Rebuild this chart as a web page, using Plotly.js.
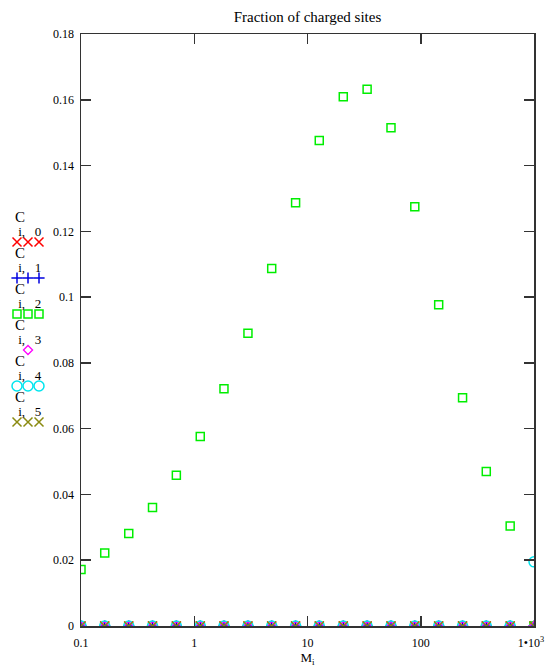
<!DOCTYPE html>
<html>
<head>
<meta charset="utf-8">
<script src="https://cdn.plot.ly/plotly-3.0.1.min.js"></script>
<style>html,body{margin:0;padding:0;background:#fff;}#chart{width:546px;height:667px;}</style>
</head>
<body>
<div id="chart"></div>
<script>
// ---- data ----
const M = [0.1, 0.162, 0.264, 0.428, 0.695, 1.13, 1.83, 2.98, 4.83, 7.85, 12.7, 20.7, 33.6, 54.6, 88.6, 144, 234, 379, 616, 1000];
const C0 = [0, 0, 0, 0, 0, 0, 0, 0, 0, 0, 0, 0, 0, 0, 0, 0, 0, 0, 0, 0];
const C1 = [0, 0, 0, 0, 0, 0, 0, 0, 0, 0, 0, 0, 0, 0, 0, 0, 0, 0, 0, 0];
const C2 = [0.0172, 0.0222, 0.0281, 0.0360, 0.0458, 0.0576, 0.0721, 0.0890, 0.1087, 0.1287, 0.1476, 0.1609, 0.1632, 0.1515, 0.1275, 0.0977, 0.0694, 0.0470, 0.0304, 0];
const C3 = [0, 0, 0, 0, 0, 0, 0, 0, 0, 0, 0, 0, 0, 0, 0, 0, 0, 0, 0, 0];
const C4 = [0, 0, 0, 0, 0, 0, 0, 0, 0, 0, 0, 0, 0, 0, 0, 0, 0, 0, 0, 0.0195];
const C5 = [0, 0, 0, 0, 0, 0, 0, 0, 0, 0, 0, 0, 0, 0, 0, 0, 0, 0, 0, 0];
const seriesSubs = ["i,\u2002\u00a00", "i,\u2002\u00a01", "i,\u2002\u00a02", "i,\u2002\u00a03", "i,\u2002\u00a04", "i,\u2002\u00a05"];
const xTickVals = [0.1, 1, 10, 100, 1000];
const xTickText = ["0.1", "1", "10", "100", "1\u202210<sup>3</sup>\u00a0\u00a0"];
const titleText = "Fraction of charged sites";
const xTitle = "M<sub>i</sub>";

// ---- styles ----
const series = [C0, C1, C2, C3, C4, C5];
const styles = [
  {symbol: "x-thin-open", color: "#ff0000", size: 9, lw: 1.5, legendPts: 3},
  {symbol: "cross-thin-open", color: "#0000e0", size: 8, lw: 1.5, legendPts: 3},
  {symbol: "square-open", color: "#00ee00", size: 8, lw: 1.5, legendPts: 3},
  {symbol: "diamond-open", color: "#ff00ff", size: 7, lw: 1.3, legendPts: 1},
  {symbol: "circle-open", color: "#00e5ee", size: 10, lw: 1.5, legendPts: 3},
  {symbol: "x-thin-open", color: "#8a8a10", size: 9, lw: 1.5, legendPts: 3}
];
const serif = "Liberation Serif";
const axisCol = "#333333";

const traces = [];
series.forEach((ys, i) => {
  const s = styles[i];
  traces.push({
    x: M, y: ys, type: "scatter", mode: "markers", xaxis: "x", yaxis: "y",
    cliponaxis: true, showlegend: false, hoverinfo: "skip",
    marker: {symbol: s.symbol, size: s.size, color: s.color, line: {color: s.color, width: s.lw}}
  });
});
// legend markers on a hidden helper axis (row = series index)
const annotations = [];
series.forEach((ys, i) => {
  const s = styles[i];
  const lx = s.legendPts === 3 ? [0, 1, 2] : [1];
  traces.push({
    x: lx, y: lx.map(() => i), type: "scatter", mode: "markers", xaxis: "x2", yaxis: "y2",
    cliponaxis: false, showlegend: false, hoverinfo: "skip",
    marker: {symbol: s.symbol, size: s.size, color: s.color, line: {color: s.color, width: s.lw}}
  });
  annotations.push({xref: "x2", yref: "y2", x: -0.4, y: i - 0.5, xanchor: "left", yanchor: "middle",
    align: "left", showarrow: false,
    text: '<span style="font-size:15px">C</span><br><span style="font-size:13px">\u00a0' + seriesSubs[i] + '</span>',
    font: {family: serif, size: 11, color: "#000"}});
});

const layout = {
  width: 546, height: 667,
  margin: {l: 0, r: 12, t: 34, b: 41},
  paper_bgcolor: "#fff", plot_bgcolor: "#fff",
  showlegend: false,
  title: {text: titleText, font: {family: serif, size: 15, color: "#000"},
          x: 307.5 / 546, xref: "container", xanchor: "center",
          y: 1 - 17 / 667, yref: "container", yanchor: "middle"},
  font: {family: serif, color: "#000"},
  xaxis: {
    type: "log", range: [-1, 3], domain: [81 / 534, 1], anchor: "y",
    tickvals: xTickVals, ticktext: xTickText, ticklabeloverflow: "allow",
    ticks: "inside", ticklen: 10, tickwidth: 1.5, tickcolor: axisCol,
    showline: true, linecolor: axisCol, linewidth: 1.5, mirror: "ticks",
    showgrid: false, zeroline: false,
    tickfont: {family: serif, size: 12, color: "#000"}, ticklabelstandoff: 5,
    title: {text: xTitle, font: {family: serif, size: 13, color: "#000"}, standoff: 0}
  },
  yaxis: {
    range: [0, 0.18], tick0: 0, dtick: 0.02, anchor: "x",
    ticks: "inside", ticklen: 10, tickwidth: 1.5, tickcolor: axisCol,
    showline: true, linecolor: axisCol, linewidth: 1.5, mirror: "ticks",
    showgrid: false, zeroline: false,
    tickfont: {family: serif, size: 12, color: "#000"}, ticklabelstandoff: 3
  },
  xaxis2: {domain: [0, 50 / 534], range: [-1.545, 3.0], visible: false, anchor: "y2", fixedrange: true},
  yaxis2: {domain: [0, 1], range: [10.668, -5.779], visible: false, anchor: "x2", fixedrange: true},
  annotations: annotations
};

Plotly.newPlot("chart", traces, layout, {staticPlot: true, displayModeBar: false});
</script>
</body>
</html>
